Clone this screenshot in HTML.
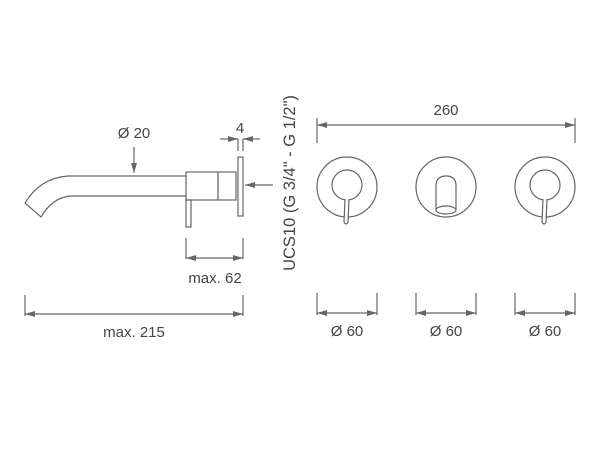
<!DOCTYPE html>
<html><head><style>body{margin:0;background:#fff}svg{display:block}</style></head><body>
<svg width="600" height="450" viewBox="0 0 600 450" xmlns="http://www.w3.org/2000/svg">
<defs>
<marker id="a" viewBox="0 0 10 6" refX="10" refY="3" markerWidth="10" markerHeight="6" orient="auto-start-reverse" markerUnits="userSpaceOnUse"><path d="M0,0 L10,3 L0,6z" fill="#666"/></marker>
</defs>
<g fill="none" stroke="#666" stroke-width="1.2">
<path d="M186,176 L68,176 Q40,178 25,203 L41,217 Q52,198 70,196 L186,196"/>
<rect x="186" y="172" width="32" height="28" fill="#fff"/>
<rect x="218" y="172" width="18" height="28" fill="#fff"/>
<rect x="186" y="200" width="5" height="27"/>
<rect x="238" y="157" width="5" height="59" fill="#fff"/>
<line x1="238" y1="139" x2="238" y2="151"/><line x1="243" y1="139" x2="243" y2="151"/>
<line x1="220" y1="139" x2="238" y2="139" marker-end="url(#a)"/>
<line x1="260" y1="139" x2="243" y2="139" marker-end="url(#a)"/>
<line x1="273" y1="185" x2="245" y2="185" marker-end="url(#a)"/>
<line x1="134" y1="147" x2="134" y2="173" marker-end="url(#a)"/>
<line x1="186" y1="238" x2="186" y2="259"/><line x1="243" y1="238" x2="243" y2="259"/>
<line x1="186" y1="258" x2="243" y2="258" marker-start="url(#a)" marker-end="url(#a)"/>
<line x1="25" y1="295" x2="25" y2="316"/><line x1="243" y1="295" x2="243" y2="316"/>
<line x1="25" y1="314" x2="243" y2="314" marker-start="url(#a)" marker-end="url(#a)"/>
<line x1="317" y1="118" x2="317" y2="143"/><line x1="575" y1="118" x2="575" y2="143"/>
<line x1="317" y1="125" x2="575" y2="125" marker-start="url(#a)" marker-end="url(#a)"/>
<circle cx="347" cy="187" r="30"/><circle cx="347" cy="185" r="15"/>
<path d="M345,199 L344,222 Q346,226 348,222 L349,199" fill="#fff"/>
<circle cx="446" cy="187" r="30"/>
<path d="M436,210 L436,186 Q436,176 446,176 Q456,176 456,186 L456,210"/>
<ellipse cx="446" cy="210" rx="10" ry="4" fill="#fff"/>
<circle cx="545" cy="187" r="30"/><circle cx="545" cy="185" r="15"/>
<path d="M543,199 L542,222 Q544,226 546,222 L547,199" fill="#fff"/>
<line x1="317" y1="293" x2="317" y2="315"/><line x1="377" y1="293" x2="377" y2="315"/>
<line x1="317" y1="313" x2="377" y2="313" marker-start="url(#a)" marker-end="url(#a)"/>
<line x1="416" y1="293" x2="416" y2="315"/><line x1="476" y1="293" x2="476" y2="315"/>
<line x1="416" y1="313" x2="476" y2="313" marker-start="url(#a)" marker-end="url(#a)"/>
<line x1="515" y1="293" x2="515" y2="315"/><line x1="575" y1="293" x2="575" y2="315"/>
<line x1="515" y1="313" x2="575" y2="313" marker-start="url(#a)" marker-end="url(#a)"/>
</g>
<g font-family="Liberation Sans, sans-serif" font-size="15" fill="#444" text-anchor="middle">
<text x="134" y="138">Ø 20</text>
<text x="240" y="133">4</text>
<text x="215" y="283">max. 62</text>
<text x="134" y="337">max. 215</text>
<text x="446" y="115">260</text>
<text x="347" y="336">Ø 60</text>
<text x="446" y="336">Ø 60</text>
<text x="545" y="336">Ø 60</text>
<text transform="translate(295,183) rotate(-90)" font-size="16.5">UCS10 (G 3/4" - G 1/2")</text>
</g>
</svg>
</body></html>
